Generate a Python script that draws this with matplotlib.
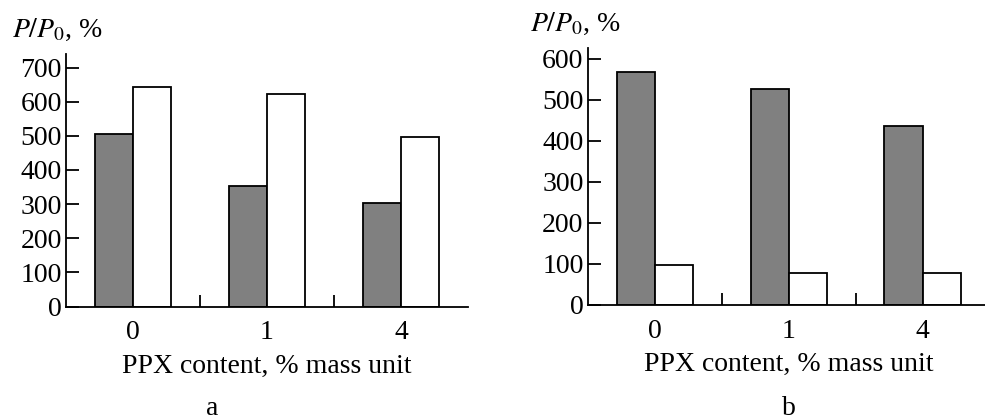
import numpy as np
import matplotlib
matplotlib.use("Agg")
import matplotlib.pyplot as plt

plt.rcParams['font.family'] = ['Liberation Serif', 'DejaVu Serif']
plt.rcParams['mathtext.fontset'] = 'stix'
plt.rcParams['font.size'] = 20

# data
categories = ["0", "1", "4"]
a_gray = [505, 354, 303]
a_white = [642, 622, 496]
b_gray = [567, 527, 436]
b_white = [98, 78, 78]

fig = plt.figure(figsize=(9.85, 4.2), dpi=100)

def drawPanel(rect, grayVals, whiteVals, yticks, ytop, letter, letterX):
    ax = fig.add_axes(rect)
    x = np.arange(len(categories))
    w = 0.285
    ax.bar(x - w / 2, grayVals, w, color="#808080", edgecolor="black", linewidth=1.3)
    ax.bar(x + w / 2, whiteVals, w, color="white", edgecolor="black", linewidth=1.3)
    ax.set_xlim(-0.5, 2.5)
    ax.set_ylim(0, ytop)
    ax.spines['top'].set_visible(False)
    ax.spines['right'].set_visible(False)
    ax.spines['left'].set_linewidth(1.3)
    ax.spines['bottom'].set_linewidth(1.3)
    ax.set_xticks(x)
    ax.set_xticklabels(categories)
    ax.set_xticks([0.5, 1.5], minor=True)
    ax.tick_params(axis='x', which='major', length=0, pad=10)
    ax.tick_params(axis='x', which='minor', direction='in', length=9, width=1.3)
    ax.set_yticks(yticks)
    ax.tick_params(axis='y', direction='in', length=9.5, width=1.3, pad=3)
    ax.set_xlabel("PPX content, % mass unit", labelpad=6)
    fig.text(letterX, 0.028, letter, ha='center', va='center')
    return ax

drawPanel([0.067, 0.27, 0.408, 0.601], a_gray, a_white, range(0, 701, 100), 739, "a", 0.215)
drawPanel([0.5967, 0.274, 0.408, 0.611], b_gray, b_white, range(0, 601, 100), 625, "b", 0.801)

fig.text(0.012, 1 - 30 / 420, "$P/P_0$, %", ha='left', va='center')
fig.text(530 / 985, 1 - 24 / 420, "$P/P_0$, %", ha='left', va='center')

fig.savefig("out.png", dpi=100)
